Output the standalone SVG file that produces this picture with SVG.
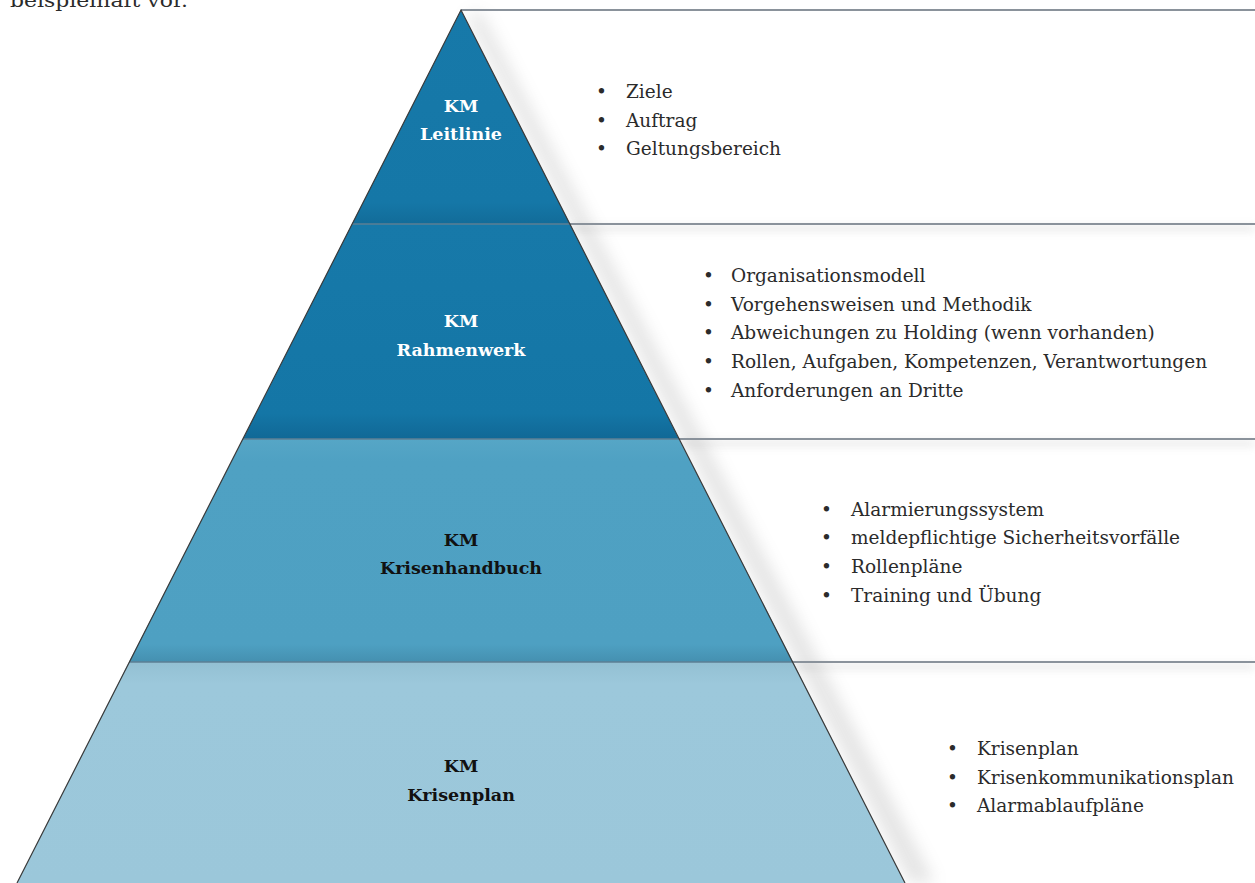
<svg xmlns="http://www.w3.org/2000/svg" width="1255" height="883" viewBox="0 0 1255 883">
<style>
.body{font-family:"DejaVu Serif","Liberation Serif",serif;font-size:18.5px;fill:#2b2b2b}
.lbl{font-family:"DejaVu Serif","Liberation Serif",serif;font-size:17.5px;font-weight:bold;text-anchor:middle}
.w{fill:#ffffff}
.k{fill:#111111}
.sep{stroke:#8a929b;stroke-width:2;fill:none}
.edge{stroke:#3a3a3a;stroke-width:1.2;fill:none}
.inner{stroke:#5d7f94;stroke-width:1.5}
</style>
<defs>
<filter id="sh" x="-20%" y="-20%" width="140%" height="140%">
<feGaussianBlur stdDeviation="8"/>
</filter>
<filter id="sh2" x="-5%" y="-200%" width="110%" height="500%">
<feGaussianBlur stdDeviation="4"/>
</filter>
<linearGradient id="g1" x1="0" y1="0" x2="0" y2="1">
<stop offset="0" stop-color="#1779a9"/><stop offset="0.9" stop-color="#1577a7"/><stop offset="1" stop-color="#126c99"/>
</linearGradient>
<linearGradient id="g2" x1="0" y1="0" x2="0" y2="1">
<stop offset="0" stop-color="#1779a9"/><stop offset="0.88" stop-color="#1476a6"/><stop offset="1" stop-color="#106896"/>
</linearGradient>
<linearGradient id="g3" x1="0" y1="0" x2="0" y2="1">
<stop offset="0" stop-color="#56a6c6"/><stop offset="0.1" stop-color="#4fa1c3"/><stop offset="0.92" stop-color="#4ea0c2"/><stop offset="1" stop-color="#4590b0"/>
</linearGradient>
<linearGradient id="g4" x1="0" y1="0" x2="0" y2="1">
<stop offset="0" stop-color="#93c0d3"/><stop offset="0.1" stop-color="#9cc8db"/><stop offset="1" stop-color="#9bc7da"/>
</linearGradient>
</defs>
<text class="body" x="10" y="7" font-size="21" textLength="178" lengthAdjust="spacingAndGlyphs">beispielhaft vor.</text>
<g id="shadow">
<polygon points="466,14 910,883 935,883 482,14" fill="#888" opacity="0.22" filter="url(#sh)"/>
<rect x="572" y="226" width="683" height="5" fill="#999" opacity="0.25" filter="url(#sh2)"/>
<rect x="682" y="441" width="573" height="5" fill="#999" opacity="0.25" filter="url(#sh2)"/>
<rect x="795" y="664" width="460" height="5" fill="#999" opacity="0.25" filter="url(#sh2)"/>
</g>
<g id="connectors">
<line class="sep" x1="461" y1="10" x2="1255" y2="10" stroke-width="1.2"/>
<line class="sep" x1="570" y1="224" x2="1255" y2="224"/>
<line class="sep" x1="679" y1="439" x2="1255" y2="439"/>
<line class="sep" x1="793" y1="662" x2="1255" y2="662"/>
</g>
<g id="level1">
<polygon points="461,10 570,224 352,224" fill="url(#g1)"/>
<text class="lbl w" x="461" y="112">KM</text>
<text class="lbl w" x="461" y="140">Leitlinie</text>
</g>
<g id="level2">
<polygon points="352,224 570,224 679,439 243,439" fill="url(#g2)"/>
<line class="inner" x1="352" y1="224" x2="570" y2="224"/>
<text class="lbl w" x="461" y="327">KM</text>
<text class="lbl w" x="461" y="356">Rahmenwerk</text>
</g>
<g id="level3">
<polygon points="243,439 679,439 793,662 129,662" fill="url(#g3)"/>
<line class="inner" x1="243" y1="439" x2="679" y2="439"/>
<text class="lbl k" x="461" y="546">KM</text>
<text class="lbl k" x="461" y="574">Krisenhandbuch</text>
</g>
<g id="level4">
<polygon points="129,662 793,662 905,883 17,883" fill="url(#g4)"/>
<line class="inner" x1="129" y1="662" x2="793" y2="662" stroke="#50758a"/>
<text class="lbl k" x="461" y="772">KM</text>
<text class="lbl k" x="461" y="801">Krisenplan</text>
</g>
<g id="outline">
<polyline class="edge" points="17,883 461,10 905,883"/>
</g>
<g id="list1" class="body">
<text x="596" y="98">•</text><text x="626" y="98">Ziele</text>
<text x="596" y="127">•</text><text x="626" y="127">Auftrag</text>
<text x="596" y="155">•</text><text x="626" y="155">Geltungsbereich</text>
</g>
<g id="list2" class="body">
<text x="703" y="282">•</text><text x="731" y="282">Organisationsmodell</text>
<text x="703" y="311">•</text><text x="731" y="311">Vorgehensweisen und Methodik</text>
<text x="703" y="339">•</text><text x="731" y="339">Abweichungen zu Holding (wenn vorhanden)</text>
<text x="703" y="368">•</text><text x="731" y="368">Rollen, Aufgaben, Kompetenzen, Verantwortungen</text>
<text x="703" y="397">•</text><text x="731" y="397">Anforderungen an Dritte</text>
</g>
<g id="list3" class="body">
<text x="821" y="516">•</text><text x="851" y="516">Alarmierungssystem</text>
<text x="821" y="544">•</text><text x="851" y="544">meldepflichtige Sicherheitsvorfälle</text>
<text x="821" y="573">•</text><text x="851" y="573">Rollenpläne</text>
<text x="821" y="602">•</text><text x="851" y="602">Training und Übung</text>
</g>
<g id="list4" class="body">
<text x="947" y="755">•</text><text x="977" y="755">Krisenplan</text>
<text x="947" y="784">•</text><text x="977" y="784">Krisenkommunikationsplan</text>
<text x="947" y="812">•</text><text x="977" y="812">Alarmablaufpläne</text>
</g>
</svg>
